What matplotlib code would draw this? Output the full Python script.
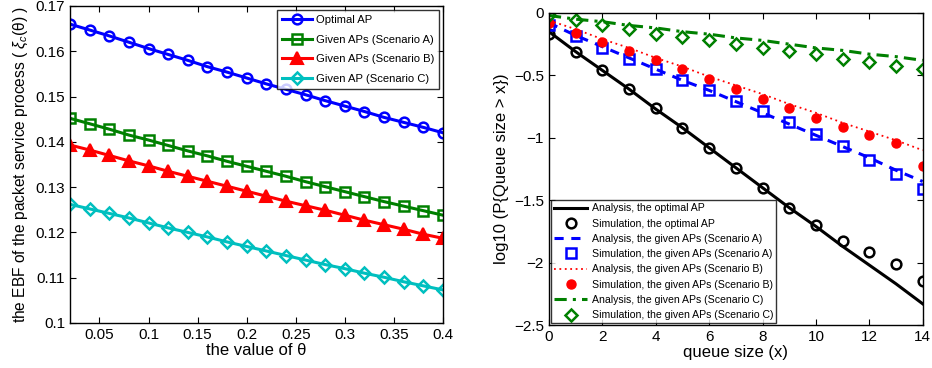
import numpy as np
import matplotlib
matplotlib.use('Agg')
import matplotlib.pyplot as plt

plt.rcParams['font.family'] = ['Liberation Sans', 'DejaVu Sans']
plt.rcParams['mathtext.fontset'] = 'custom'
plt.rcParams['mathtext.rm'] = 'Liberation Sans'
plt.rcParams['mathtext.it'] = 'Liberation Sans:italic'

# left panel data: EBF vs theta
theta = [0.02, 0.04, 0.06, 0.08, 0.10, 0.12, 0.14, 0.16, 0.18, 0.20,
         0.22, 0.24, 0.26, 0.28, 0.30, 0.32, 0.34, 0.36, 0.38, 0.40]
ebf_opt = [0.1660, 0.1647, 0.1634, 0.1620, 0.1606, 0.1593, 0.1580, 0.1566, 0.1554, 0.1541,
           0.1528, 0.1516, 0.1504, 0.1491, 0.1479, 0.1467, 0.1454, 0.1443, 0.1432, 0.1420]
ebf_a = [0.1452, 0.1440, 0.1428, 0.1415, 0.1404, 0.1392, 0.1380, 0.1369, 0.1357, 0.1346,
         0.1335, 0.1324, 0.1312, 0.1301, 0.1290, 0.1279, 0.1268, 0.1258, 0.1248, 0.1238]
ebf_b = [0.1393, 0.1382, 0.1370, 0.1358, 0.1347, 0.1335, 0.1324, 0.1313, 0.1302, 0.1291,
         0.1280, 0.1269, 0.1259, 0.1249, 0.1238, 0.1227, 0.1217, 0.1207, 0.1196, 0.1187]
ebf_c = [0.1262, 0.1252, 0.1242, 0.1232, 0.1221, 0.1210, 0.1200, 0.1190, 0.1179, 0.1169,
         0.1159, 0.1149, 0.1139, 0.1129, 0.1120, 0.1110, 0.1101, 0.1091, 0.1082, 0.1073]

# right panel data: log10 P{Q > x}
qsize = list(range(15))
ana_opt = [-0.15, -0.31, -0.46, -0.61, -0.77, -0.92, -1.08, -1.24, -1.40, -1.56,
           -1.71, -1.87, -2.02, -2.17, -2.33]
sim_opt = [-0.165, -0.312, -0.459, -0.611, -0.760, -0.925, -1.080, -1.240, -1.400, -1.565,
           -1.699, -1.824, -1.917, -2.013, -2.144]
ana_a = [-0.08, -0.18, -0.27, -0.36, -0.45, -0.54, -0.62, -0.71, -0.80, -0.89,
         -0.98, -1.07, -1.16, -1.26, -1.35]
sim_a = [-0.099, -0.187, -0.280, -0.371, -0.453, -0.539, -0.619, -0.704, -0.784, -0.872,
         -0.973, -1.067, -1.179, -1.288, -1.413]
ana_b = [-0.06, -0.13, -0.21, -0.28, -0.36, -0.43, -0.51, -0.58, -0.65, -0.73,
         -0.80, -0.88, -0.95, -1.02, -1.10]
sim_b = [-0.080, -0.157, -0.232, -0.304, -0.379, -0.451, -0.531, -0.613, -0.691, -0.765,
         -0.840, -0.912, -0.979, -1.045, -1.224]
ana_c = [-0.02, -0.05, -0.07, -0.10, -0.12, -0.15, -0.17, -0.20, -0.22, -0.25,
         -0.28, -0.30, -0.33, -0.35, -0.38]
sim_c = [-0.019, -0.059, -0.093, -0.131, -0.165, -0.192, -0.219, -0.245, -0.277, -0.304,
         -0.331, -0.365, -0.392, -0.424, -0.451]

blue = (0, 0, 1)
green = (0, 0.5, 0)
red = (1, 0, 0)
cyan = (0, 0.75, 0.75)

fig = plt.figure(figsize=(9.32, 3.68), dpi=100)

def matlab_axes(ax):
    ax.tick_params(direction='in', top=True, right=True, labelsize=11, length=4, width=0.8)
    for s in ax.spines.values():
        s.set_linewidth(1.0)

# left panel
ax1 = fig.add_axes([0.0751, 0.1223, 0.4002, 0.8614])
ax1.plot(theta, ebf_opt, '-o', color=blue, lw=2.2, ms=7, mfc='none', mew=1.8, label='Optimal AP')
ax1.plot(theta, ebf_a, '-s', color=green, lw=2.2, ms=6.5, mfc='none', mew=1.8, label='Given APs (Scenario A)')
ax1.plot(theta, ebf_b, '-^', color=red, lw=2.2, ms=8, mfc=red, mew=1.5, label='Given APs (Scenario B)')
ax1.plot(theta, ebf_c, '-D', color=cyan, lw=2.2, ms=6, mfc='none', mew=1.8, label='Given AP (Scenario C)')
ax1.set_xlim(0.02, 0.4)
ax1.set_ylim(0.1, 0.17)
ax1.set_xticks([0.05, 0.1, 0.15, 0.2, 0.25, 0.3, 0.35, 0.4])
ax1.set_xticklabels(['0.05', '0.1', '0.15', '0.2', '0.25', '0.3', '0.35', '0.4'])
ax1.set_yticks([0.1, 0.11, 0.12, 0.13, 0.14, 0.15, 0.16, 0.17])
ax1.set_yticklabels(['0.1', '0.11', '0.12', '0.13', '0.14', '0.15', '0.16', '0.17'])
matlab_axes(ax1)
ax1.set_xlabel('the value of θ', fontsize=12, labelpad=1)
ax1.set_ylabel(r'the EBF of the packet service process ( $\xi_c$(θ) )', fontsize=11.2, labelpad=4)
leg1 = ax1.legend(loc='upper right', fontsize=8.1, frameon=True, fancybox=False,
                  edgecolor='black', borderpad=0.45, handlelength=2.7, labelspacing=0.85,
                  handletextpad=0.3, borderaxespad=0.35)
leg1.get_frame().set_linewidth(1.0)

# right panel
ax2 = fig.add_axes([0.589, 0.1168, 0.401, 0.848])
ax2.plot(qsize, ana_opt, '-', color='black', lw=2.2, label='Analysis, the optimal AP')
ax2.plot(qsize, sim_opt, 'o', color='black', ms=7, mfc='none', mew=1.8, label='Simulation, the optimal AP')
ax2.plot(qsize, ana_a, '--', color=blue, lw=2.2, dashes=(3, 2.5), label='Analysis, the given APs (Scenario A)')
ax2.plot(qsize, sim_a, 's', color=blue, ms=6.5, mfc='none', mew=1.8, label='Simulation, the given APs (Scenario A)')
ax2.plot(qsize, ana_b, ':', color=red, lw=1.3, dashes=(1, 2.0), label='Analysis, the given APs (Scenario B)')
ax2.plot(qsize, sim_b, 'o', color=red, ms=6.5, mfc=red, mew=1.0, label='Simulation, the given APs (Scenario B)')
ax2.plot(qsize, ana_c, '-.', color=green, lw=2.2, dashes=(4, 2, 1, 2), label='Analysis, the given APs (Scenario C)')
ax2.plot(qsize, sim_c, 'D', color=green, ms=6, mfc='none', mew=1.8, label='Simulation, the given APs (Scenario C)')
ax2.set_xlim(0, 14)
ax2.set_ylim(-2.5, 0)
ax2.set_xticks(range(0, 15, 2))
ax2.set_yticks([-2.5, -2, -1.5, -1, -0.5, 0])
ax2.set_yticklabels(['\u22122.5', '\u22122', '\u22121.5', '\u22121', '\u22120.5', '0'])
matlab_axes(ax2)
ax2.set_xlabel('queue size (x)', fontsize=12, labelpad=1)
ax2.set_ylabel('log10 (P{Queue size > x})', fontsize=12, labelpad=4)
leg2 = ax2.legend(loc='lower left', fontsize=7.6, frameon=True, fancybox=False,
                  edgecolor='black', borderpad=0.3, handlelength=3.2, labelspacing=0.5,
                  handletextpad=0.4, borderaxespad=0.15)
leg2.get_frame().set_linewidth(1.0)

fig.savefig('out.png', dpi=100)
